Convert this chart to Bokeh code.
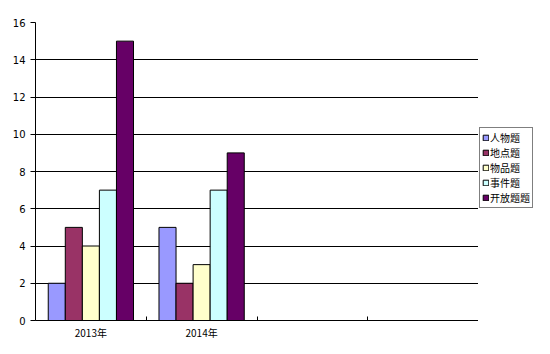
from bokeh.plotting import figure
from bokeh.models import ColumnDataSource, FixedTicker, Legend, LegendItem, Range1d
from bokeh.layouts import row
from bokeh.transform import dodge
from bokeh.embed import file_html
from bokeh.resources import INLINE

categories = ["2013年", "2014年", "", ""]
series_names = ["人物题", "地点题", "物品题", "事件题", "开放题题"]
renwu = [2, 5, 0, 0]
didian = [5, 2, 0, 0]
wupin = [4, 3, 0, 0]
shijian = [7, 7, 0, 0]
kaifang = [15, 9, 0, 0]
colors = ["#9999FF", "#993366", "#FFFFCC", "#CCFFFF", "#660066"]
y_ticks = [0, 2, 4, 6, 8, 10, 12, 14, 16]

series_values = [renwu, didian, wupin, shijian, kaifang]
centers = [i + 0.5 for i in range(len(categories))]
bounds = list(range(len(categories) + 1))

p = figure(width=478, height=354, output_backend="svg", toolbar_location=None,
           x_range=Range1d(0, len(categories)), y_range=Range1d(0, 16),
           min_border_left=35, min_border_right=0, min_border_top=22, min_border_bottom=34)
p.outline_line_color = None
p.background_fill_color = "white"
p.border_fill_color = "white"

# legend panel as a separate figure; its proxy bars fall outside its visible ranges
lp = figure(width=72, height=354, output_backend="svg", toolbar_location=None,
            x_axis_type=None, y_axis_type=None,
            x_range=Range1d(-20, -19), y_range=Range1d(-2, -1),
            min_border_left=0, min_border_right=0, min_border_top=0, min_border_bottom=0)
lp.outline_line_color = None
lp.grid.visible = False
lp.border_fill_color = "white"
lp.background_fill_color = "white"

bw = 0.154
items = []
for k, (name, vals, col) in enumerate(zip(series_names, series_values, colors)):
    src = ColumnDataSource(dict(x=centers[:2], top=vals[:2]))
    off = (k - 2) * bw
    p.vbar(x=dodge("x", off), top="top", width=bw, bottom=0, source=src,
           fill_color=col, line_color="#000000", line_width=1)
    proxy = lp.vbar(x=dodge("x", off), top="top", width=bw, bottom=0, source=src,
                    fill_color=col, line_color="#000000", line_width=1)
    items.append(LegendItem(label=name, renderers=[proxy]))

# Axes
p.xaxis.ticker = FixedTicker(ticks=centers, minor_ticks=bounds)
p.xaxis.major_label_overrides = {c: lab for c, lab in zip(centers, categories)}
p.xaxis.major_tick_in = 0
p.xaxis.major_tick_out = 0
p.xaxis.minor_tick_in = 4
p.xaxis.minor_tick_out = 0
p.xaxis.minor_tick_line_color = "black"
p.xaxis.axis_line_color = "black"
p.xaxis.major_label_text_font = "Noto Sans CJK SC"
p.xaxis.major_label_text_font_size = "10px"
p.xaxis.major_label_text_color = "black"
p.xaxis.major_label_standoff = 4

p.yaxis.ticker = FixedTicker(ticks=y_ticks)
p.yaxis.major_tick_in = 0
p.yaxis.major_tick_out = 5
p.yaxis.minor_tick_line_color = None
p.yaxis.axis_line_color = "black"
p.yaxis.major_label_text_font = "DejaVu Sans"
p.yaxis.major_label_text_font_size = "10px"
p.yaxis.major_label_text_color = "black"
p.yaxis.major_label_standoff = 5

p.xgrid.grid_line_color = None
p.ygrid.ticker = FixedTicker(ticks=y_ticks)
p.ygrid.grid_line_color = "black"
p.ygrid.grid_line_width = 1

legend = Legend(items=items, location=(1, 112), margin=0,
                border_line_color="black", border_line_width=1,
                background_fill_color="white", background_fill_alpha=1,
                label_text_font="DejaVu Sans, Noto Sans CJK SC", label_text_font_size="10px",
                label_text_line_height=1.0,
                label_text_color="black",
                glyph_width=7, glyph_height=7, label_height=13, label_standoff=1,
                spacing=0, padding=2)
lp.add_layout(legend, "center")

layout = row(p, lp)
open("out.html", "w").write(file_html(layout, INLINE))
